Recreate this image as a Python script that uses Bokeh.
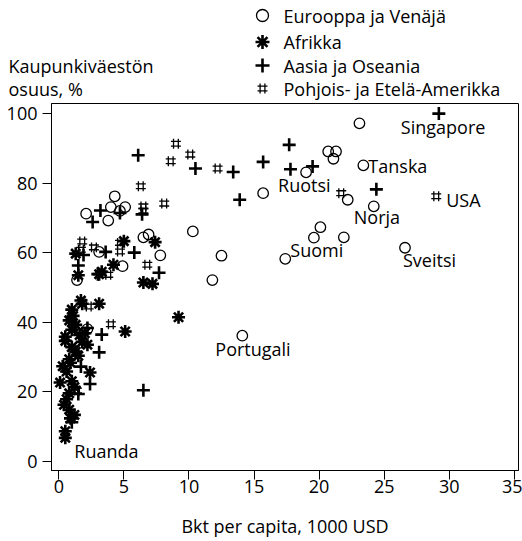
import numpy as np
from bokeh.plotting import figure
from bokeh.models import Range1d, FixedTicker, ColumnDataSource
from bokeh.layouts import column
from bokeh.embed import file_html
from bokeh.resources import INLINE
from bokeh.core.properties import value

# ---------------- data ----------------
europe_x = [23.1, 20.7, 21.3, 21.1, 23.4, 19.0, 15.7, 22.2, 24.2, 20.1, 19.6, 21.9,
            17.4, 26.6, 12.5, 11.8, 14.1, 10.3, 7.8, 6.5, 6.9, 4.3, 4.0, 5.1, 4.7,
            3.8, 2.1, 3.1, 4.9, 1.4, 2.2]
europe_y = [97.2, 89.1, 89.1, 87.0, 85.1, 83.1, 77.1, 75.2, 73.3, 67.3, 64.3, 64.4,
            58.2, 61.4, 59.1, 52.1, 36.1, 66.1, 59.2, 64.4, 65.2, 76.2, 73.1, 73.1, 72.0,
            69.2, 71.2, 60.2, 56.1, 52.1, 38.0]

africa_x = [5.0, 7.4, 4.2, 3.3, 3.1, 1.5, 1.3, 6.5, 7.2, 9.2, 5.1, 3.1, 1.7, 1.8, 1.0,
            1.1, 0.8, 1.3, 1.0, 0.5, 0.5, 1.6, 2.2, 1.3, 1.0, 0.8, 0.9, 0.6, 2.4, 0.1,
            1.0, 0.8, 0.6, 0.4, 1.2, 0.8, 0.5, 0.5, 1.5, 1.8, 0.3, 1.2, 0.9, 2.0]
africa_y = [63.3, 63.0, 56.5, 54.5, 53.8, 53.5, 59.7, 51.4, 51.0, 41.4, 37.3, 45.3,
            46.2, 45.3, 43.6, 41.8, 40.5, 39.2, 37.8, 35.8, 34.6, 36.3, 33.5, 31.5,
            32.8, 29.3, 28.3, 25.8, 25.5, 22.6, 23.0, 19.5, 17.8, 16.2, 13.3, 14.8,
            8.6, 6.7, 30.3, 34.3, 27.3, 21.3, 12.3, 36.8]

asia_x = [29.2, 17.7, 15.7, 17.8, 19.5, 13.4, 13.9, 24.4, 10.5, 6.1, 3.2, 2.6, 4.7,
          6.4, 3.6, 5.8, 1.9, 1.5, 7.7, 3.0, 3.3, 3.1, 1.7, 2.4, 1.5, 1.0, 6.5, 2.2]
asia_y = [100.0, 91.0, 86.1, 84.0, 84.8, 83.2, 75.2, 78.2, 84.2, 88.0, 72.1, 68.8,
          71.4, 71.0, 60.2, 60.0, 59.3, 56.3, 54.2, 53.8, 36.4, 31.3, 27.2, 22.2,
          19.3, 11.2, 20.4, 38.3]

america_x = [29.0, 21.7, 12.2, 9.0, 10.1, 8.6, 6.3, 8.1, 6.5, 6.5, 1.8, 2.7, 4.7,
             4.7, 6.8, 3.8, 4.0, 2.3, 1.4, 1.7]
america_y = [76.2, 77.1, 84.2, 91.3, 88.2, 86.3, 79.1, 74.1, 73.3, 72.1, 63.2, 61.5,
             62.8, 60.3, 56.5, 53.6, 39.4, 44.5, 20.3, 60.8]

legend_labels = ["Eurooppa ja Venäjä", "Afrikka", "Aasia ja Oseania",
                 "Pohjois- ja Etelä-Amerikka"]
y_title_lines = ["Kaupunkiväestön", "osuus, %"]
x_title = "Bkt per capita, 1000 USD"
x_ticks = [0, 5, 10, 15, 20, 25, 30, 35]
y_ticks = [0, 20, 40, 60, 80, 100]

label_names = ["Singapore", "Tanska", "Ruotsi", "Norja", "USA", "Suomi",
               "Sveitsi", "Portugali", "Ruanda"]
label_x = [29.2, 23.4, 19.0, 24.2, 29.0, 17.4, 26.6, 14.1, 0.5]
label_y = [100.0, 85.1, 83.1, 73.3, 76.2, 58.2, 61.4, 36.1, 6.7]
# label placement (screen px, relative to the point)
label_dx = [-38, 5, -28, -20, 10, 5, -2, -27, 9]
label_dy = [13, 1, 13, 11, 4, -9, 12, 13, 13]

# ---------------- style ----------------
FONT = "Open Sans"
FS = "18px"
TOTAL_W = 522
BL, BR = 51, 4
FRAME_W, FRAME_H = TOTAL_W - BL - BR, 368
X0, X1 = -0.56, 35.32
Y0, Y1 = -2.7, 102.9
TOP_H = 101
BT, BB = 2, 69

p = figure(width=TOTAL_W, height=BT + FRAME_H + BB, x_range=Range1d(X0, X1),
           y_range=Range1d(Y0, Y1), output_backend="svg", toolbar_location=None,
           min_border_left=BL, min_border_right=BR, min_border_top=BT,
           min_border_bottom=BB)
p.xgrid.grid_line_color = None
p.ygrid.grid_line_color = None
p.outline_line_color = "black"
p.outline_line_width = 1
p.outline_line_alpha = 1

for ax in (p.xaxis[0], p.yaxis[0]):
    ax.axis_line_color = "black"
    ax.major_tick_line_color = "black"
    ax.major_tick_in = 0
    ax.major_tick_out = 9
    ax.minor_tick_line_color = None
    ax.major_label_text_font = FONT
    ax.major_label_text_font_size = FS
    ax.major_label_text_color = "black"
    ax.axis_label_text_font = FONT
    ax.axis_label_text_font_size = FS
    ax.axis_label_text_font_style = "normal"
    ax.axis_label_text_color = "black"
p.xaxis.ticker = FixedTicker(ticks=x_ticks)
p.yaxis.ticker = FixedTicker(ticks=y_ticks)
p.xaxis.major_label_standoff = 0
p.yaxis.major_label_standoff = 5
p.xaxis.axis_label = x_title
p.xaxis.axis_label_standoff = 18

# Europe: hollow circles
p.scatter(europe_x, europe_y, marker="circle", size=10.5, fill_color=None,
          line_color="black", line_width=1.3)
# Africa: asterisks
p.scatter(africa_x, africa_y, marker="asterisk", size=13, line_color="black",
          line_width=2.6)
# Asia: plus
p.scatter(asia_x, asia_y, marker="cross", size=13, line_color="black", line_width=2.6)

# Americas: hash marks built from short segments (screen-size converted to data)
sx = FRAME_W / (X1 - X0)
sy = FRAME_H / (Y1 - Y0)
a, b = 2.4, 5.0
ax_ = np.array(america_x)
ay_ = np.array(america_y)
x0s, y0s, x1s, y1s = [], [], [], []
for s in (-1, 1):
    x0s.append(ax_ + s * a / sx); x1s.append(ax_ + s * a / sx)
    y0s.append(ay_ - b / sy); y1s.append(ay_ + b / sy)
    x0s.append(ax_ - b / sx); x1s.append(ax_ + b / sx)
    y0s.append(ay_ + s * a / sy); y1s.append(ay_ + s * a / sy)
p.segment(np.concatenate(x0s), np.concatenate(y0s), np.concatenate(x1s),
          np.concatenate(y1s), line_color="black", line_width=1.3)

lab_src = ColumnDataSource(dict(x=label_x, y=label_y, text=label_names,
                                dx=label_dx, dy=label_dy))
p.text(x="x", y="y", text="text", x_offset="dx", y_offset="dy", source=lab_src,
       text_font=value(FONT), text_font_size=FS, text_color="black",
       text_align="left", text_baseline="middle")

# ---------------- top area: legend + y title (page-pixel coordinates) ----------------
t = figure(width=TOTAL_W, height=TOP_H, x_range=Range1d(0, TOTAL_W),
           y_range=Range1d(TOP_H, 0), output_backend="svg", toolbar_location=None,
           x_axis_type=None, y_axis_type=None, min_border_left=0,
           min_border_right=0, min_border_top=0, min_border_bottom=0)
t.xgrid.grid_line_color = None
t.ygrid.grid_line_color = None
t.outline_line_color = None
for fig in (t, p):
    try:
        fig.frame_align = False
    except Exception:
        pass

rows = [15, 41.5, 65, 88]
mx = 262
t.scatter([mx], [rows[0]], marker="circle", size=12, fill_color=None,
          line_color="black", line_width=1.3)
t.scatter([mx], [rows[1]], marker="asterisk", size=14, line_color="black",
          line_width=2.6)
t.scatter([mx], [rows[2]], marker="cross", size=14, line_color="black",
          line_width=2.6)
hy = rows[3]
t.segment([mx - a, mx + a, mx - b, mx - b], [hy - b, hy - b, hy - a, hy + a],
          [mx - a, mx + a, mx + b, mx + b], [hy + b, hy + b, hy - a, hy + a],
          line_color="black", line_width=1.3)
t.text(x=[283] * 4, y=rows, text=legend_labels, text_font=value(FONT),
       text_font_size=FS, text_color="black", text_align="left",
       text_baseline="middle")
t.text(x=[8, 8], y=rows[2:], text=y_title_lines, text_font=value(FONT),
       text_font_size=FS, text_color="black", text_align="left",
       text_baseline="middle")

layout = column(t, p, spacing=0)
open("out.html", "w").write(file_html(layout, INLINE))
